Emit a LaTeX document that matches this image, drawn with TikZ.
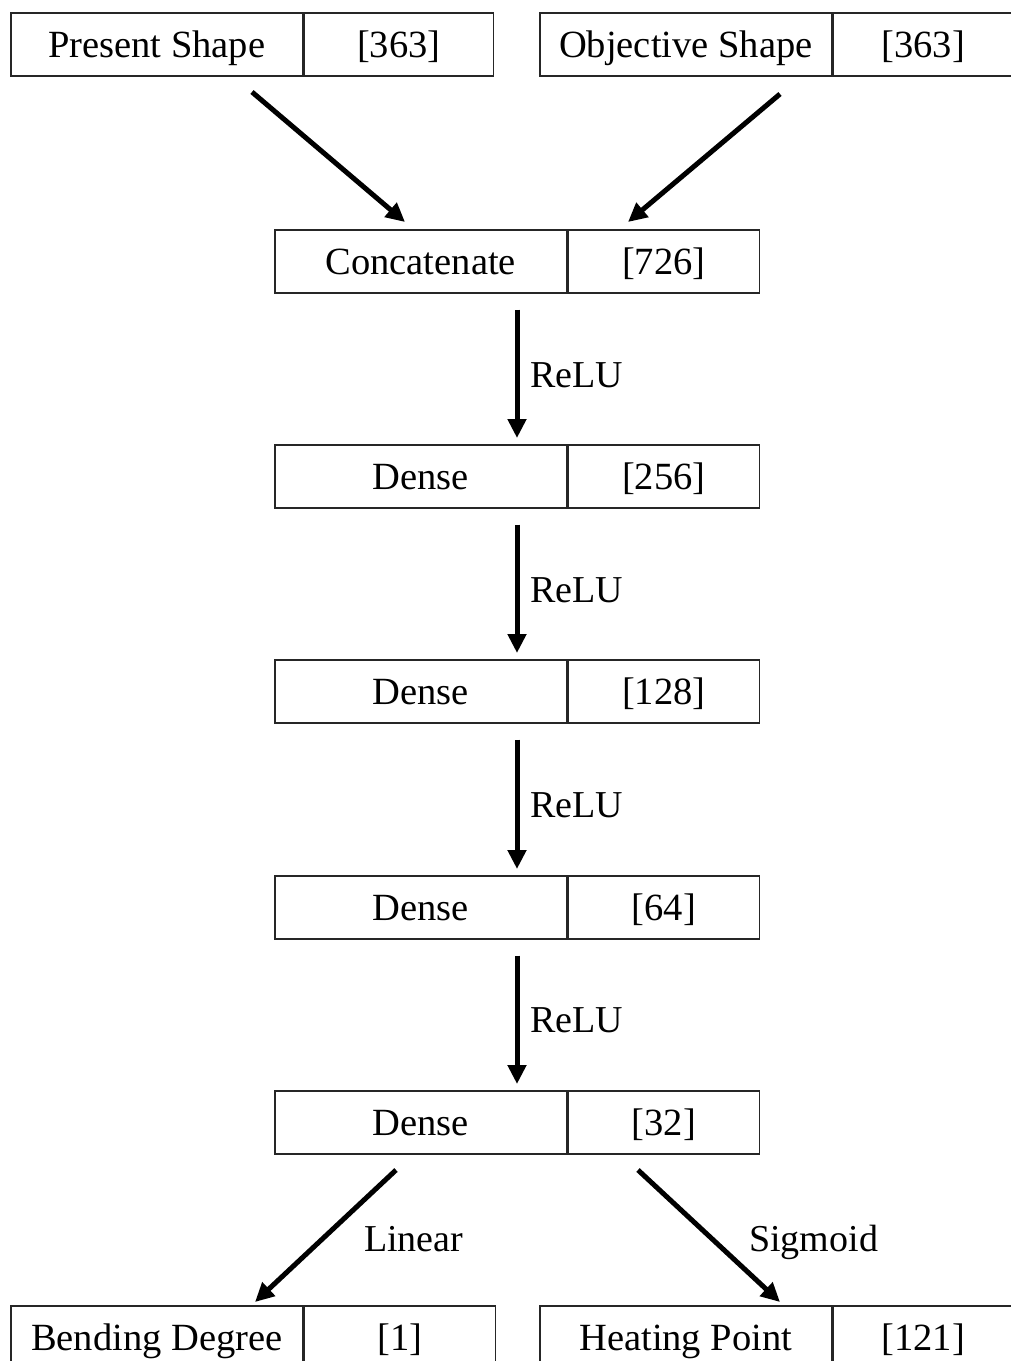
\documentclass[tikz,border=0pt]{standalone}
\usepackage{fontspec}
\setmainfont{Liberation Serif}
\usetikzlibrary{arrows.meta,calc}
\begin{document}
\begin{tikzpicture}[x=1pt,y=-1pt,
  cell/.style={draw=black!85, line width=1.5pt, minimum height=63pt, inner sep=0pt,
    text height=30pt, text depth=3pt, font=\fontsize{38.5}{44}\selectfont, anchor=north west},
  wideL/.style={cell, minimum width=292pt},
  flow/.style={line width=5pt, -{Triangle[length=19pt,width=18pt]}},
  lbl/.style={font=\fontsize{38}{44}\selectfont, anchor=base west, inner sep=0pt}]
\useasboundingbox (0,0) rectangle (1011,1361);
\clip (0,0) rectangle (1011,1361);
% top inputs
\node[wideL] (psL) at (10,12) {Present Shape};
\node[cell, minimum width=189pt] (psR) at (psL.north east) {[363]};
\node[wideL] (osL) at (539,12) {Objective Shape};
\node[cell, minimum width=180pt] (osR) at (osL.north east) {[363]};
% chain
\node[wideL] (cL) at (274,229) {Concatenate};
\node[cell, minimum width=191pt] (cR) at (cL.north east) {[726]};
\node[wideL] (d1L) at (274,444) {Dense};
\node[cell, minimum width=191pt] (d1R) at (d1L.north east) {[256]};
\node[wideL] (d2L) at (274,659) {Dense};
\node[cell, minimum width=191pt] (d2R) at (d2L.north east) {[128]};
\node[wideL] (d3L) at (274,875) {Dense};
\node[cell, minimum width=191pt] (d3R) at (d3L.north east) {[64]};
\node[wideL] (d4L) at (274,1090) {Dense};
\node[cell, minimum width=191pt] (d4R) at (d4L.north east) {[32]};
% outputs
\node[wideL] (bdL) at (10,1305) {Bending Degree};
\node[cell, minimum width=191pt] (bdR) at (bdL.north east) {[1]};
\node[wideL] (hpL) at (539,1305) {Heating Point};
\node[cell, minimum width=180pt] (hpR) at (hpL.north east) {[121]};
% connector end points
\coordinate (psOut) at (252,92);
\coordinate (osOut) at (780,94);
\coordinate (cInL) at (405,222);
\coordinate (cInR) at (628,222);
\coordinate (d4OutL) at (396,1170);
\coordinate (d4OutR) at (638,1170);
\coordinate (bdIn) at (255,1302);
\coordinate (hpIn) at (780,1302);
% arrows
\draw[flow] (psOut) -- (cInL);
\draw[flow] (osOut) -- (cInR);
\draw[flow, shorten <=16pt, shorten >=6pt] ($(cL.south west)!0.5!(cR.south east)$) -- ($(d1L.north west)!0.5!(d1R.north east)$);
\draw[flow, shorten <=16pt, shorten >=6pt] ($(d1L.south west)!0.5!(d1R.south east)$) -- ($(d2L.north west)!0.5!(d2R.north east)$);
\draw[flow, shorten <=16pt, shorten >=6pt] ($(d2L.south west)!0.5!(d2R.south east)$) -- ($(d3L.north west)!0.5!(d3R.north east)$);
\draw[flow, shorten <=16pt, shorten >=6pt] ($(d3L.south west)!0.5!(d3R.south east)$) -- ($(d4L.north west)!0.5!(d4R.north east)$);
\draw[flow] (d4OutL) -- (bdIn);
\draw[flow] (d4OutR) -- (hpIn);
% labels
\node[lbl] (r1) at (530,387) {ReLU};
\node[lbl] (r2) at (530,602) {ReLU};
\node[lbl] (r3) at (530,817) {ReLU};
\node[lbl] (r4) at (530,1032) {ReLU};
\node[lbl] (lin) at (364,1251) {Linear};
\node[lbl] (sig) at (749,1251) {Sigmoid};
\end{tikzpicture}
\end{document}
